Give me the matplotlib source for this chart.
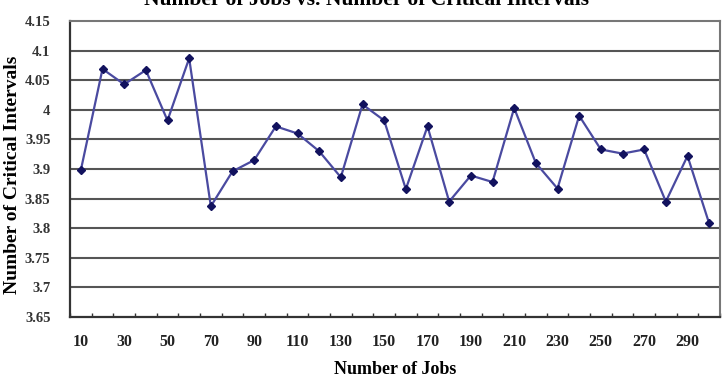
import matplotlib
matplotlib.use("Agg")
import matplotlib.pyplot as plt
import numpy as np

jobs = [10, 20, 30, 40, 50, 60, 70, 80, 90, 100, 110, 120, 130, 140, 150,
        160, 170, 180, 190, 200, 210, 220, 230, 240, 250, 260, 270, 280, 290, 300]
intervals = [3.898, 4.069, 4.043, 4.067, 3.982, 4.087, 3.837, 3.896, 3.915, 3.972,
             3.960, 3.930, 3.886, 4.009, 3.982, 3.866, 3.972, 3.845, 3.889, 3.878,
             4.003, 3.910, 3.867, 3.990, 3.933, 3.926, 3.933, 3.845, 3.922, 3.808]
y_ticks = [3.65, 3.7, 3.75, 3.8, 3.85, 3.9, 3.95, 4.0, 4.05, 4.1, 4.15]
y_tick_labels = ["3.65", "3.7", "3.75", "3.8", "3.85", "3.9", "3.95", "4", "4.05", "4.1", "4.15"]

title = "Number of Jobs vs. Number of Critical Intervals"
xlabel = "Number of Jobs"
ylabel = "Number of Critical Intervals"

plt.rcParams['font.family'] = ['Liberation Serif', 'DejaVu Serif']

fig = plt.figure(figsize=(7.27, 3.87), dpi=100)
ax = fig.add_axes([70/727, 1 - 317/387, (720-70)/727, (317-21)/387])

pos = np.arange(len(jobs))
ax.plot(pos, intervals, color='#4a4aa0', linewidth=1.6, marker='D', markersize=4,
        markerfacecolor='#12125e', markeredgecolor='#12125e', zorder=3)

ax.set_xlim(-0.5, len(jobs) - 0.5)
ax.set_ylim(3.65, 4.15)
ax.set_yticks(y_ticks)
ax.set_yticklabels(y_tick_labels, fontsize=10.5, fontweight='bold', color='#333333')
for y in y_ticks[1:-1]:
    ax.axhline(y, color='#555555', linewidth=1.5, zorder=1)

ax.set_xticks(pos[::2])
ax.set_xticklabels([str(j) for j in jobs[::2]], fontsize=11.5, fontweight='bold', color='#222222')
ax.set_xticks(np.arange(len(jobs) + 1) - 0.5, minor=True)
ax.tick_params(axis='x', which='major', length=0, pad=12)
ax.tick_params(axis='x', which='minor', length=3, direction='in', width=1, color='#333333')
ax.tick_params(axis='y', length=0, pad=14)

for s in ['left', 'bottom']:
    ax.spines[s].set_color('#333333')
    ax.spines[s].set_linewidth(1.6)
for s in ['top', 'right']:
    ax.spines[s].set_color('#777777')
    ax.spines[s].set_linewidth(1.5)

ax.set_xlabel(xlabel, fontsize=13, fontweight='bold', labelpad=8)
ax.set_ylabel(ylabel, fontsize=14, fontweight='bold', va='center')
ax.yaxis.set_label_coords((13 - 70) / 650, (317 - 175) / 296)

fig.text(367/727, 1 - 5/387, title, ha='center', va='baseline',
         fontsize=15.5, fontweight='bold')

fig.savefig('out.png', dpi=100)
